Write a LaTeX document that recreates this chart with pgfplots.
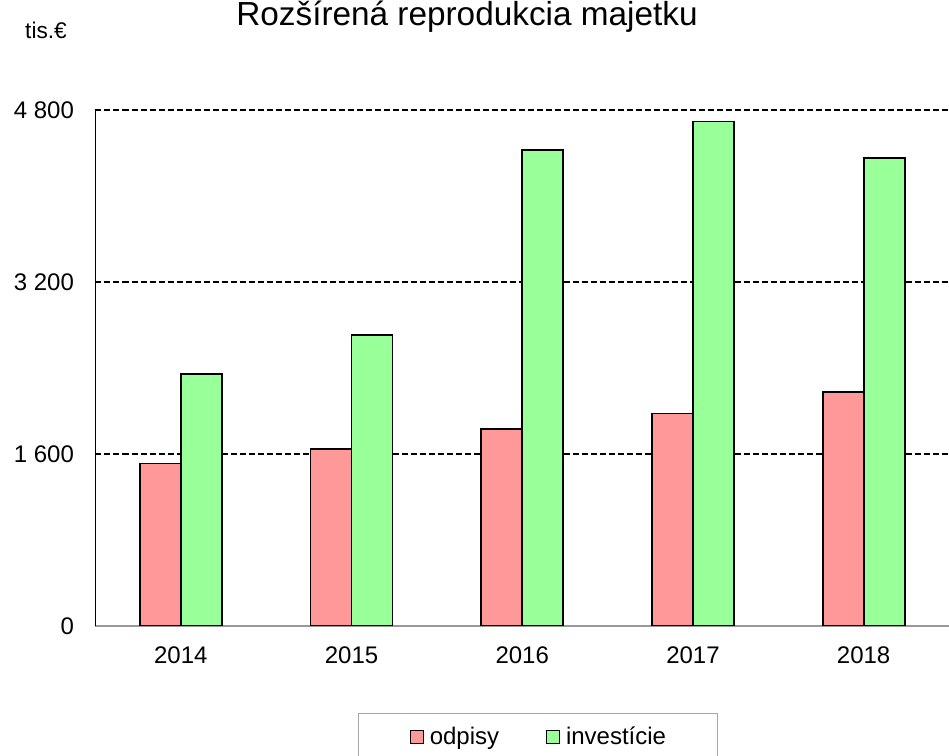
\documentclass[border=0pt]{standalone}
\usepackage{pgfplots}
\pgfplotsset{compat=1.18}
\usepackage{fontspec}
\setmainfont{Liberation Sans}
\definecolor{odp}{HTML}{FF9999}
\definecolor{inv}{HTML}{99FF99}
\begin{document}
\begin{tikzpicture}
\path[use as bounding box] (0,0) rectangle (711.75pt,567pt);
\node[anchor=base,font=\fontsize{25}{29}\selectfont] at (350.25pt,547.5pt) {Rozšírená reprodukcia majetku};
\node[anchor=base,font=\fontsize{17}{20}\selectfont] at (34.5pt,537.75pt) {tis.€};
\begin{axis}[
  at={(71.625pt,97.5pt)}, anchor=south west,
  scale only axis, width=640.125pt, height=387pt,
  xmin=-0.5, xmax=4.5, ymin=0, ymax=4800,
  axis x line*=bottom, axis y line*=left,
  x axis line style={draw=gray!80, line width=1.5pt, -},
  y axis line style={draw=black, line width=1.1pt, -},
  xtick={0,1,2,3,4}, xticklabels={2014,2015,2016,2017,2018},
  ytick={0,1600,3200,4800}, yticklabels={0,{1\ 600},{3\ 200},{4\ 800}},
  major tick length=0pt,
  ymajorgrids, grid style={draw=black, line width=0.8pt, dash pattern=on 4.5pt off 2.25pt},
  xticklabel style={font=\fontsize{18}{21}\selectfont, inner sep=0pt, anchor=north, yshift=-15.5pt},
  yticklabel style={font=\fontsize{18}{21}\selectfont, inner sep=0pt, anchor=east, xshift=-16pt},
  ybar=0pt, bar width=30.75pt,
  legend columns=2,
  legend image code/.code={\draw[#1,draw=black,line width=0.9pt] (0pt,-4.875pt) rectangle (9.75pt,4.875pt);},
  legend style={at={(0.3076,-0.1686)}, anchor=north west, draw=gray!70, line width=0.8pt,
    font=\fontsize{18}{21}\selectfont, inner xsep=38.25pt, inner ysep=10pt,
    /tikz/column 1/.style={column sep=4.5pt},
    /tikz/column 2/.style={column sep=35pt},
    /tikz/column 3/.style={column sep=4.5pt},
    nodes={inner sep=0pt}},
]
\addplot[fill=odp, draw=black, line width=1.4pt] coordinates {(0,1512) (1,1645) (2,1831) (3,1977) (4,2178)};
\addplot[fill=inv, draw=black, line width=1.4pt] coordinates {(0,2348) (1,2704) (2,4430) (3,4693) (4,4356)};
\legend{odpisy,investície}
\end{axis}
\end{tikzpicture}
\end{document}
